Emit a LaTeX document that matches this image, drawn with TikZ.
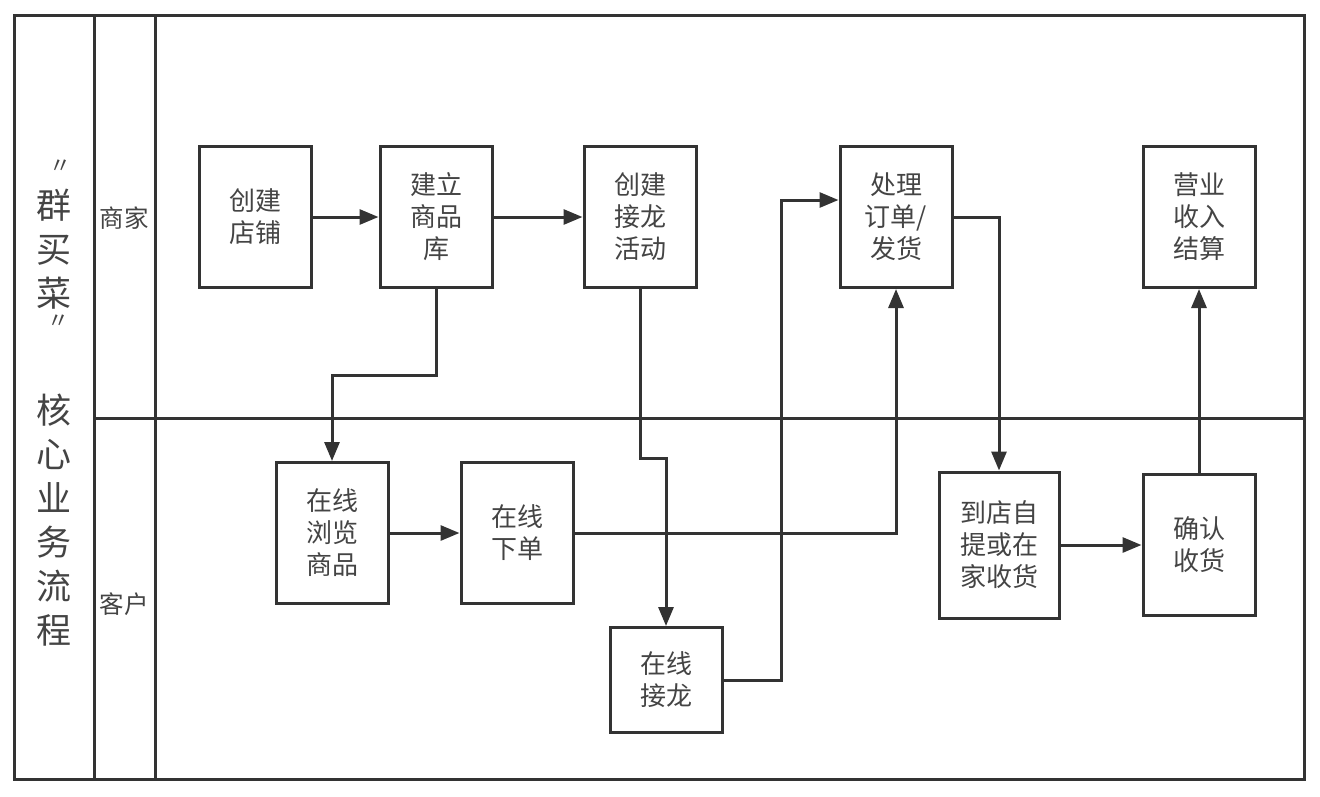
\documentclass[tikz,border=0pt]{standalone}
\usepackage{fontspec}
\newfontfamily\cjk{Noto Sans CJK SC}
\usetikzlibrary{arrows.meta}
\definecolor{ink}{HTML}{333333}
\definecolor{txt}{HTML}{444444}
\begin{document}
\begin{tikzpicture}[x=1pt,y=-1pt,
  frame/.style={draw=ink,line width=3pt},
  proc/.style={draw=ink,line width=3pt,rectangle,minimum width=#1,align=center,
    text=txt,font=\cjk\fontsize{26}{32}\selectfont,inner sep=0pt},
  proc/.default=112pt,
  arr/.style={draw=ink,line width=3pt,-{Triangle[length=19pt,width=15pt]}},
  lane/.style={text=txt,font=\cjk\fontsize{24.5}{28}\selectfont,inner sep=0pt},
  ttl/.style={text=txt,font=\cjk\fontsize{35}{44}\selectfont,align=center,inner sep=0pt}
]
\useasboundingbox (0,0) rectangle (1320,796);
% frame and lanes
\draw[frame] (14,15) rectangle (1304,779);
\draw[frame] (94,15) -- (94,779);
\draw[frame] (155,15) -- (155,779);
\draw[frame] (94,418) -- (1304,418);
% title
\node[ttl,font=\cjk\fontsize{22}{26}\selectfont] (tq1) at (60,167) {〃};
\node[ttl] (ta) at (54,249) {群\\买\\菜};
\node[ttl,font=\cjk\fontsize{22}{26}\selectfont] (tq2) at (58,322) {〃};
\node[ttl] (tb) at (54,520) {核\\心\\业\\务\\流\\程};
\node[lane] (l1) at (124,218) {商家};
\node[lane] (l2) at (124,604) {客户};
% boxes
\node[proc,minimum height=141pt] (b1) at (255,217) {创建\\店铺};
\node[proc,minimum height=141pt] (b2) at (436,217) {建立\\商品\\库};
\node[proc,minimum height=141pt] (b3) at (640,217) {创建\\接龙\\活动};
\node[proc,minimum height=141pt] (b4) at (896,217) {处理\\订单/\\发货};
\node[proc,minimum height=141pt] (b5) at (1199,217) {营业\\收入\\结算};
\node[proc,minimum height=141pt] (b6) at (332,533) {在线\\浏览\\商品};
\node[proc,minimum height=141pt] (b7) at (517,533) {在线\\下单};
\node[proc,minimum height=105pt] (b8) at (666,680) {在线\\接龙};
\node[proc=120pt,minimum height=146pt] (b9) at (999,545) {到店自\\提或在\\家收货};
\node[proc,minimum height=141pt] (b10) at (1199,545) {确认\\收货};
% connectors
\coordinate (j1) at (781,200);
\draw[arr] (b1) -- (b2);
\draw[arr] (b2) -- (b3);
\draw[arr] (b2.south) -- ++(0,86) -| (b6.north);
\draw[arr] (b3.south) -- ++(0,169) -| (b8.north);
\draw[arr] (b6) -- (b7);
\draw[arr] (b7.east) -| (b4.south);
\draw[arr] (b8.east) -| (j1) -- (b4.west |- j1);
\draw[arr] (b4.east) -| (b9.north);
\draw[arr] (b9) -- (b10);
\draw[arr] (b10.north) -- (b5.south);
\end{tikzpicture}
\end{document}
